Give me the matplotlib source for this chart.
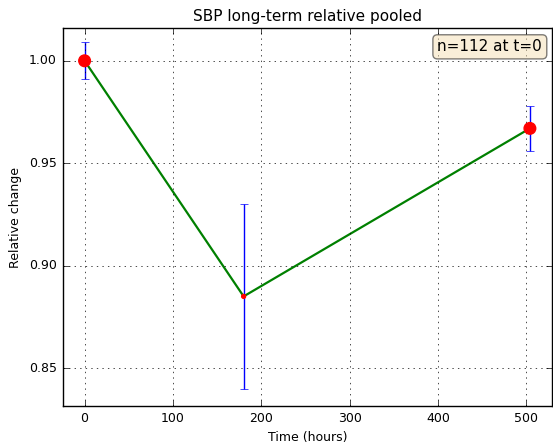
import numpy as np
import matplotlib
matplotlib.use("Agg")
import matplotlib.pyplot as plt

plt.style.use("classic")

# pooled relative SBP at each time point
times = [0, 180, 504]
rel_mean = [1.000, 0.885, 0.967]
rel_err = [0.009, 0.045, 0.011]
marker_sizes = [70, 8, 70]
n_start = 112

fig = plt.figure(figsize=(5.53, 4.43), dpi=100)
ax = fig.add_axes([62.5 / 553, 37 / 443, 489.5 / 553, 378 / 443])

ax.errorbar(times, rel_mean, yerr=rel_err, fmt="none", ecolor="b", capsize=3, elinewidth=1)
ax.plot(times, rel_mean, color="g", linewidth=1.6)
ax.scatter(times, rel_mean, s=marker_sizes, color="r", edgecolor="r", zorder=3)

ax.set_xlim(-25, 529)
ax.set_ylim(0.8315, 1.016)
ax.set_xticks([0, 100, 200, 300, 400, 500])
ax.set_yticks([0.85, 0.90, 0.95, 1.00])
ax.yaxis.set_major_formatter(matplotlib.ticker.FormatStrFormatter("%.2f"))
ax.tick_params(labelsize=9)
ax.grid(True, color="k", linestyle=":")

ax.set_title("SBP long-term relative pooled", fontsize=11)
ax.set_xlabel("Time (hours)", fontsize=9)
ax.set_ylabel("Relative change", fontsize=9)

ax.text(0.98, 0.97, "n=%d at t=0" % n_start, transform=ax.transAxes, ha="right", va="top",
        fontsize=11, bbox=dict(boxstyle="round", facecolor="wheat", alpha=0.5))

fig.savefig("out.png", dpi=100)
